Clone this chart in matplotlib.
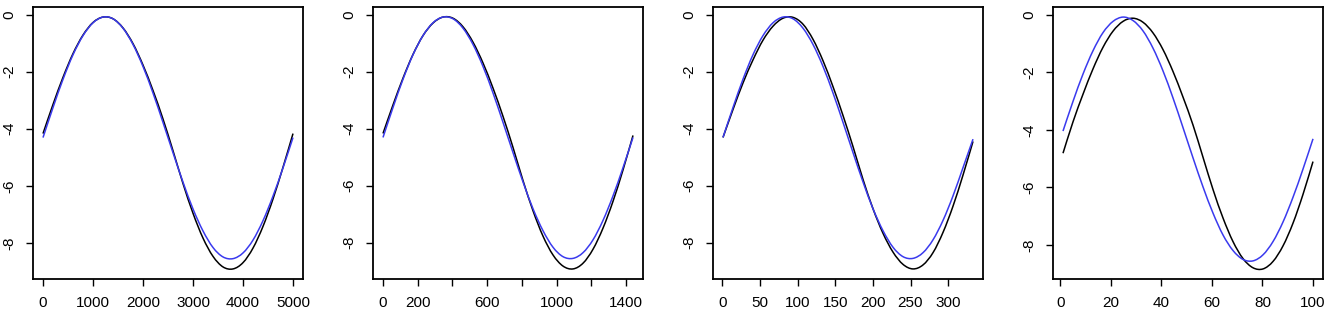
import matplotlib
matplotlib.use('Agg')
import matplotlib.pyplot as plt
from matplotlib.path import Path
from matplotlib.patches import PathPatch
import numpy as np

plt.rcParams['font.family'] = ['Liberation Sans', 'DejaVu Sans']

# x ranges of the four panels (26 evenly spaced samples each)
x_ranges = [(0, 5000), (0, 1440), (1, 333), (1, 100)]

# values, one list per curve
black_1 = [-4.17, -3.15, -2.20, -1.37, -0.72, -0.28, -0.09, -0.15, -0.47, -1.02,
           -1.77, -2.66, -3.66, -4.77, -5.92, -6.96, -7.83, -8.47, -8.84, -8.91,
           -8.69, -8.18, -7.42, -6.46, -5.35, -4.17]
blue_1 = [-4.31, -3.26, -2.27, -1.41, -0.74, -0.29, -0.09, -0.15, -0.48, -1.05,
          -1.82, -2.75, -3.78, -4.84, -5.87, -6.81, -7.58, -8.16, -8.49, -8.55,
          -8.35, -7.90, -7.22, -6.36, -5.37, -4.31]
black_2 = [-4.17, -3.17, -2.23, -1.40, -0.74, -0.30, -0.09, -0.13, -0.43, -0.97,
           -1.70, -2.58, -3.57, -4.66, -5.82, -6.88, -7.77, -8.43, -8.82, -8.92,
           -8.72, -8.23, -7.49, -6.55, -5.45, -4.24]
blue_2 = [-4.31, -3.26, -2.27, -1.41, -0.74, -0.29, -0.09, -0.15, -0.48, -1.05,
          -1.82, -2.75, -3.78, -4.84, -5.87, -6.81, -7.58, -8.16, -8.49, -8.55,
          -8.35, -7.90, -7.22, -6.36, -5.37, -4.31]
black_3 = [-4.31, -3.33, -2.40, -1.59, -0.90, -0.41, -0.13, -0.10, -0.34, -0.87,
           -1.62, -2.53, -3.54, -4.63, -5.78, -6.81, -7.67, -8.33, -8.76, -8.92,
           -8.78, -8.35, -7.64, -6.72, -5.63, -4.45]
blue_3 = [-4.31, -3.26, -2.27, -1.41, -0.74, -0.29, -0.09, -0.15, -0.48, -1.05,
          -1.82, -2.75, -3.78, -4.84, -5.87, -6.81, -7.58, -8.16, -8.49, -8.55,
          -8.35, -7.90, -7.22, -6.36, -5.37, -4.37]
black_4 = [-4.81, -3.72, -2.76, -1.88, -1.13, -0.57, -0.23, -0.12, -0.26, -0.63,
           -1.21, -1.97, -2.86, -3.83, -4.95, -6.07, -7.06, -7.88, -8.47, -8.79,
           -8.83, -8.57, -8.03, -7.24, -6.24, -5.10]
blue_4 = [-4.04, -3.01, -2.06, -1.25, -0.62, -0.23, -0.08, -0.20, -0.56, -1.16,
          -1.95, -2.89, -3.92, -4.97, -5.98, -6.89, -7.65, -8.19, -8.50, -8.55,
          -8.34, -7.88, -7.20, -6.34, -5.36, -4.31]

blacks = [black_1, black_2, black_3, black_4]
blues = [blue_1, blue_2, blue_3, blue_4]

x_ticks = [[0, 1000, 2000, 3000, 4000, 5000],
           [0, 200, 400, 600, 800, 1000, 1200, 1400],
           [0, 50, 100, 150, 200, 250, 300],
           [0, 20, 40, 60, 80, 100]]
x_labels = [['0', '1000', '2000', '3000', '4000', '5000'],
            ['0', '200', '', '600', '', '1000', '', '1400'],
            ['0', '50', '100', '150', '200', '250', '300'],
            ['0', '20', '40', '60', '80', '100']]
y_ticks = [0, -2, -4, -6, -8]
y_labels = ['0', '-2', '-4', '-6', '-8']


def smooth_line(ax, x, y, color):
    # bezier path through the read points so the curve is drawn smooth
    pts = np.column_stack([x, y])
    n = len(pts)
    verts = [pts[0]]
    codes = [Path.MOVETO]
    for i in range(n - 1):
        p0 = pts[i - 1] if i > 0 else pts[i]
        p3 = pts[i + 2] if i + 2 < n else pts[i + 1]
        verts.append(pts[i] + (pts[i + 1] - p0) / 6)
        verts.append(pts[i + 1] - (p3 - pts[i]) / 6)
        verts.append(pts[i + 1])
        codes += [Path.CURVE4] * 3
    ax.add_patch(PathPatch(Path(verts, codes), fill=False, edgecolor=color, lw=1.1))


def main():
    W, H = 1338, 314
    fig = plt.figure(figsize=(W / 100, H / 100), dpi=100, facecolor='white')
    lefts = [33, 373, 713, 1053]
    for i in range(4):
        ax = fig.add_axes([lefts[i] / W, 35 / H, 270 / W, 272 / H])
        x0, x1 = x_ranges[i]
        x = np.linspace(x0, x1, len(blacks[i]))
        smooth_line(ax, x, blacks[i], 'black')
        smooth_line(ax, x, blues[i], '#3a3aee')
        lo = min(min(blacks[i]), min(blues[i]))
        hi = max(max(blacks[i]), max(blues[i]))
        ax.set_xlim(x0 - 0.04 * (x1 - x0), x1 + 0.04 * (x1 - x0))
        ax.set_ylim(lo - 0.04 * (hi - lo), hi + 0.04 * (hi - lo))
        ax.set_xticks(x_ticks[i])
        ax.set_xticklabels(x_labels[i])
        ax.set_yticks(y_ticks)
        ax.set_yticklabels(y_labels, rotation=90, va='center')
        ax.tick_params(direction='out', length=5, width=1, labelsize=11, pad=7, colors='black')
        for s in ax.spines.values():
            s.set_linewidth(1.3)
    fig.savefig('out.png', dpi=100, facecolor='white')


if __name__ == '__main__':
    main()
